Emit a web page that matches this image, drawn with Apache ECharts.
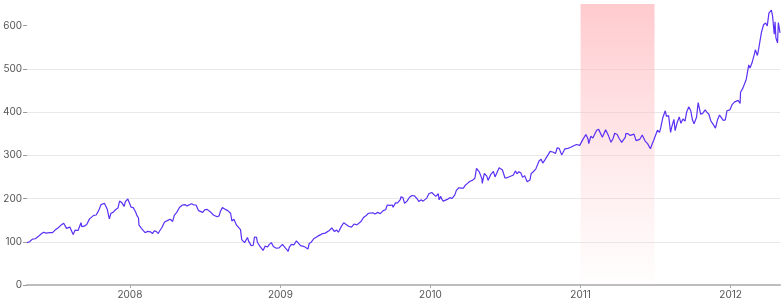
<!DOCTYPE html>
<html><head><meta charset="utf-8">
<script src="https://cdn.jsdelivr.net/npm/echarts@6/dist/echarts.min.js"></script>
<style>html,body{margin:0;padding:0;background:#fff}#c{width:784px;height:300px}</style>
</head><body><div id="c"></div>
<script>
const dates = [
'2007-04-26','2007-05-02','2007-05-09','2007-05-16','2007-05-23','2007-05-30','2007-06-05','2007-06-11','2007-06-14','2007-06-20','2007-06-27',
'2007-07-03','2007-07-10','2007-07-17','2007-07-24','2007-07-27','2007-07-31','2007-08-03','2007-08-08','2007-08-16','2007-08-21','2007-08-28',
'2007-09-04','2007-09-06','2007-09-12','2007-09-18','2007-09-25','2007-09-28','2007-10-05','2007-10-11','2007-10-17','2007-10-23','2007-10-31',
'2007-11-07','2007-11-12','2007-11-16','2007-11-21','2007-11-27','2007-12-03','2007-12-07','2007-12-12','2007-12-18','2007-12-21','2007-12-27','2007-12-31',
'2008-01-04','2008-01-09','2008-01-15','2008-01-18','2008-01-22','2008-01-23','2008-01-29','2008-02-01','2008-02-07','2008-02-13','2008-02-20','2008-02-25','2008-02-29',
'2008-03-05','2008-03-10','2008-03-14','2008-03-19','2008-03-25','2008-04-01','2008-04-08','2008-04-14','2008-04-18','2008-04-24',
'2008-05-01','2008-05-08','2008-05-14','2008-05-19','2008-05-23','2008-05-30','2008-06-05','2008-06-10','2008-06-16','2008-06-20','2008-06-26',
'2008-07-01','2008-07-07','2008-07-11','2008-07-15','2008-07-22','2008-07-25','2008-07-31','2008-08-05','2008-08-08','2008-08-13','2008-08-20','2008-08-26',
'2008-09-02','2008-09-05','2008-09-10','2008-09-16','2008-09-19','2008-09-26','2008-09-29','2008-10-01','2008-10-06','2008-10-10','2008-10-13','2008-10-16','2008-10-22','2008-10-27','2008-10-30',
'2008-11-04','2008-11-06','2008-11-12','2008-11-14','2008-11-20','2008-11-25','2008-12-01','2008-12-05','2008-12-10','2008-12-15','2008-12-22','2008-12-29',
'2009-01-02','2009-01-06','2009-01-12','2009-01-20','2009-01-23','2009-01-28','2009-02-03','2009-02-09','2009-02-13','2009-02-19','2009-02-24',
'2009-03-02','2009-03-09','2009-03-12','2009-03-17','2009-03-23','2009-03-27','2009-04-02','2009-04-08','2009-04-14','2009-04-20','2009-04-24','2009-04-30',
'2009-05-06','2009-05-12','2009-05-18','2009-05-22','2009-05-29','2009-06-04','2009-06-10','2009-06-16','2009-06-23','2009-06-29',
'2009-07-06','2009-07-10','2009-07-16','2009-07-22','2009-07-28','2009-08-03','2009-08-07','2009-08-14','2009-08-19','2009-08-26',
'2009-09-01','2009-09-08','2009-09-14','2009-09-18','2009-09-24','2009-09-30','2009-10-02','2009-10-08','2009-10-13','2009-10-20','2009-10-21','2009-10-26','2009-10-30',
'2009-11-05','2009-11-11','2009-11-17','2009-11-23','2009-11-30','2009-12-04','2009-12-09','2009-12-14','2009-12-18','2009-12-23','2009-12-28',
'2010-01-04','2010-01-08','2010-01-14','2010-01-20','2010-01-22','2010-01-26','2010-01-28','2010-02-01','2010-02-05','2010-02-11','2010-02-17','2010-02-22',
'2010-03-01','2010-03-05','2010-03-11','2010-03-16','2010-03-22','2010-03-26','2010-04-01','2010-04-07','2010-04-13','2010-04-19','2010-04-21','2010-04-23','2010-04-30',
'2010-05-06','2010-05-07','2010-05-12','2010-05-18','2010-05-21','2010-05-25','2010-05-28','2010-06-03','2010-06-07','2010-06-11','2010-06-17','2010-06-21','2010-06-25',
'2010-07-01','2010-07-06','2010-07-13','2010-07-16','2010-07-21','2010-07-27','2010-07-30','2010-08-04','2010-08-09','2010-08-13','2010-08-18','2010-08-24','2010-08-31',
'2010-09-03','2010-09-08','2010-09-14','2010-09-17','2010-09-22','2010-09-27','2010-10-01','2010-10-06','2010-10-12','2010-10-15','2010-10-19','2010-10-22','2010-10-27',
'2010-11-01','2010-11-05','2010-11-10','2010-11-16','2010-11-19','2010-11-24','2010-12-01','2010-12-07','2010-12-13','2010-12-17','2010-12-22','2010-12-30',
'2011-01-05','2011-01-10','2011-01-14','2011-01-19','2011-01-21','2011-01-26','2011-01-31','2011-02-03','2011-02-09','2011-02-14','2011-02-16','2011-02-23','2011-02-28',
'2011-03-03','2011-03-10','2011-03-16','2011-03-21','2011-03-25','2011-03-31','2011-04-05','2011-04-11','2011-04-15','2011-04-20','2011-04-21','2011-04-26',
'2011-05-02','2011-05-06','2011-05-11','2011-05-16','2011-05-20','2011-05-25','2011-05-31','2011-06-03','2011-06-07','2011-06-13','2011-06-17','2011-06-20','2011-06-24','2011-06-28',
'2011-07-01','2011-07-07','2011-07-12','2011-07-15','2011-07-20','2011-07-26','2011-07-29','2011-08-03','2011-08-08','2011-08-10','2011-08-16','2011-08-19','2011-08-24','2011-08-29',
'2011-09-02','2011-09-07','2011-09-12','2011-09-16','2011-09-21','2011-09-26','2011-09-30','2011-10-04','2011-10-10','2011-10-14','2011-10-18','2011-10-20','2011-10-25','2011-10-31',
'2011-11-04','2011-11-09','2011-11-14','2011-11-18','2011-11-25','2011-11-30','2011-12-05','2011-12-09','2011-12-14','2011-12-19','2011-12-23','2011-12-30',
'2012-01-05','2012-01-10','2012-01-13','2012-01-19','2012-01-24','2012-01-25','2012-01-31','2012-02-03','2012-02-08','2012-02-14','2012-02-17','2012-02-22','2012-02-28',
'2012-03-01','2012-03-06','2012-03-09','2012-03-13','2012-03-16','2012-03-21','2012-03-26','2012-03-30','2012-04-03','2012-04-09','2012-04-12','2012-04-16','2012-04-18','2012-04-20','2012-04-24','2012-04-26','2012-04-30'
];
const prices = [
98,100,106,107,112,118,122,120,123,121,121,
127,132,138,143,143,131,131,134,117,127,126,
144,135,136,140,153,154,161,162,172,186,189,
175,153,166,168,174,178,194,191,182,193,199,198,
180,179,169,161,155,139,131,133,121,124,123,119,125,
124,119,126,133,145,149,152,147,161,168,
180,185,186,183,181,188,185,185,172,175,168,
174,175,172,169,162,163,158,160,170,179,175,172,
166,148,152,139,140,128,105,109,98,96,110,101,91,92,111,
110,99,90,90,80,90,88,94,98,89,85,86,
90,94,87,78,88,94,93,102,99,91,90,
88,83,96,99,107,105,113,116,119,120,123,126,
132,124,127,122,135,144,140,136,134,141,
139,139,147,156,160,166,165,167,164,168,
165,172,174,185,184,185,180,190,190,198,204,202,189,
194,203,207,206,199,193,197,194,195,201,211,
214,211,205,211,197,205,199,194,195,198,202,200,
208,219,225,224,224,230,235,240,242,247,259,270,261,
246,235,258,252,242,245,256,263,250,253,271,270,266,
248,248,251,249,254,264,257,262,259,249,253,239,243,
258,262,268,275,287,291,282,289,298,302,309,307,307,
304,317,316,301,306,315,316,318,321,321,325,323,
334,342,348,338,327,344,340,343,358,360,364,342,353,
359,345,330,339,351,348,339,330,327,342,350,350,
346,346,349,334,335,337,347,343,333,327,320,315,326,335,
343,358,353,364,387,403,390,392,353,363,383,357,376,389,
374,384,379,400,412,403,382,373,388,422,422,395,397,405,
400,395,379,374,363,382,393,393,381,382,403,405,
418,423,419,427,420,446,456,459,476,509,502,514,535,
544,531,545,568,585,602,606,599,629,636,622,580,609,572,560,607,583
];
const yTickValues = [0,100,200,300,400,500,600];
const yearTicks = ['2008-01-01','2009-01-01','2010-01-01','2011-01-01','2012-01-01'];
const highlightRange = ['2011-01-01','2011-06-30'];

const ts = d => echarts.time.parse(d).getTime();
const xs = dates.map(ts);
const yearVals = yearTicks.map(ts);
const chart = echarts.init(document.getElementById('c'), null, {renderer:'canvas'});
chart.setOption({
  animation: false,
  grid: {left: 25, right: 4, top: 4, bottom: 15},
  xAxis: {
    type: 'value',
    min: xs[0], max: xs[xs.length - 1],
    axisLine: {show: true, lineStyle: {color: '#bdbdbd', width: 2}},
    axisTick: {show: true, length: 3, lineStyle: {color: '#aaa'}, customValues: yearVals},
    axisLabel: {color: '#555', fontSize: 10, fontFamily: 'Inter', margin: 5,
      customValues: yearVals, formatter: v => String(new Date(v).getFullYear())},
    splitLine: {show: false}
  },
  yAxis: {
    type: 'value', min: 0, max: 650, interval: 100,
    axisLine: {show: false},
    axisTick: {show: true, length: 4, lineStyle: {color: '#999'}, customValues: yTickValues},
    axisLabel: {color: '#555', fontSize: 10, fontFamily: 'Inter', margin: 5, customValues: yTickValues},
    splitLine: {show: true, showMaxLine: false, showMinLine: false, lineStyle: {color: '#e8e8e8'}}
  },
  series: [{
    type: 'line',
    data: xs.map((x, i) => [x, prices[i]]),
    showSymbol: false, symbol: 'none',
    lineStyle: {color: '#5a30f5', width: 1.2},
    itemStyle: {color: '#5a30f5'},
    markArea: {
      silent: true,
      itemStyle: {
        color: new echarts.graphic.LinearGradient(0, 0, 0, 1, [
          {offset: 0, color: 'rgba(255,180,185,0.7)'},
          {offset: 1, color: 'rgba(255,200,205,0.03)'}
        ])
      },
      data: [[{xAxis: ts(highlightRange[0])}, {xAxis: ts(highlightRange[1])}]]
    }
  }]
});
</script></body></html>
